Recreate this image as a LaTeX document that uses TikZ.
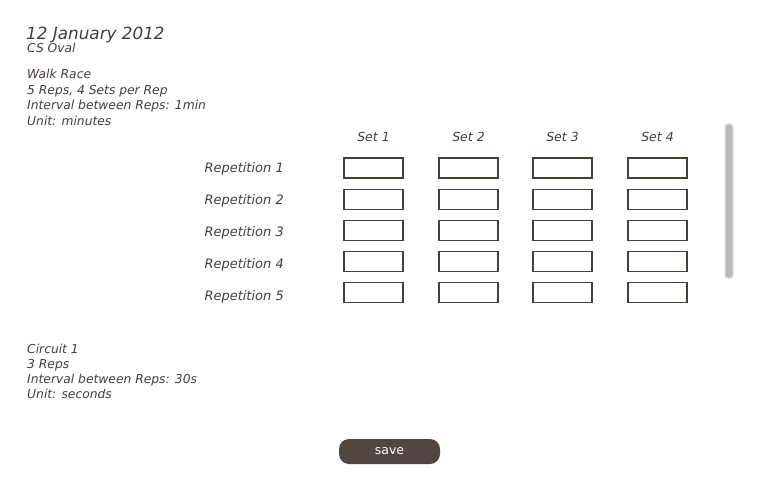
\documentclass[tikz,border=0pt]{standalone}
\usepackage{fontspec}
\setmainfont{DejaVu Sans}
\usepackage{tikz}
\usetikzlibrary{positioning}

\definecolor{inkbrown}{HTML}{443D3C}
\definecolor{boxbrown}{HTML}{4A3E38}
\definecolor{btnbrown}{HTML}{524641}
\definecolor{scrollgray}{HTML}{B8B8B8}

\tikzset{
  info/.style={anchor=base west, inner sep=0pt, color=inkbrown,
               font=\fontsize{12.3}{14}\selectfont\itshape},
  setlabel/.style={anchor=base, inner sep=0pt, color=inkbrown,
                   font=\fontsize{12.5}{14}\selectfont\itshape},
  replabel/.style={anchor=base east, inner sep=0pt, color=inkbrown,
                   font=\fontsize{13}{14}\selectfont\itshape},
  entrybox/.style={draw=boxbrown, line width=1.9pt, fill=white,
                   minimum width=59pt, minimum height=20pt, inner sep=0pt},
  savebtn/.style={fill=btnbrown, rounded corners=10pt, minimum width=101pt,
                  minimum height=25pt, inner sep=0pt, text=white,
                  font=\fontsize{12.5}{14}\selectfont}
}

\begin{document}
\begin{tikzpicture}[x=1pt, y=-1pt]
\useasboundingbox (0,0) rectangle (779,500);

\node[info, font=\fontsize{16.8}{18}\selectfont\itshape] (date) at (26, 40) {12 January 2012};
\node[info] (place) at (27, 53) {CS Oval};

\node[info] (walk1) at (27, 79) {Walk Race};
\node[info] (walk2) at (27, 94.5) {5 Reps, 4 Sets per Rep};
\node[info] (walk3) at (27, 110) {Interval between Reps: 1min};
\node[info] (walk4) at (27, 125.5) {Unit: minutes};

\node[setlabel] (set1) at (373.5, 141.5) {Set 1};
\node[setlabel] (set2) at (468.5, 141.5) {Set 2};
\node[setlabel] (set3) at (562.5, 141.5) {Set 3};
\node[setlabel] (set4) at (657.5, 141.5) {Set 4};

\node[replabel] (rep1) at (284, 172) {Repetition 1};
\node[replabel] (rep2) at (284, 204) {Repetition 2};
\node[replabel] (rep3) at (284, 236) {Repetition 3};
\node[replabel] (rep4) at (284, 268) {Repetition 4};
\node[replabel] (rep5) at (284, 300) {Repetition 5};

\node[entrybox] (r1s1) at (373.5, 168) {};
\node[entrybox] (r1s2) at (468.5, 168) {};
\node[entrybox] (r1s3) at (562.5, 168) {};
\node[entrybox] (r1s4) at (657.5, 168) {};
\node[entrybox] (r2s1) at (373.5, 199.5) {};
\node[entrybox] (r2s2) at (468.5, 199.5) {};
\node[entrybox] (r2s3) at (562.5, 199.5) {};
\node[entrybox] (r2s4) at (657.5, 199.5) {};
\node[entrybox] (r3s1) at (373.5, 230.5) {};
\node[entrybox] (r3s2) at (468.5, 230.5) {};
\node[entrybox] (r3s3) at (562.5, 230.5) {};
\node[entrybox] (r3s4) at (657.5, 230.5) {};
\node[entrybox] (r4s1) at (373.5, 261.5) {};
\node[entrybox] (r4s2) at (468.5, 261.5) {};
\node[entrybox] (r4s3) at (562.5, 261.5) {};
\node[entrybox] (r4s4) at (657.5, 261.5) {};
\node[entrybox] (r5s1) at (373.5, 292.5) {};
\node[entrybox] (r5s2) at (468.5, 292.5) {};
\node[entrybox] (r5s3) at (562.5, 292.5) {};
\node[entrybox] (r5s4) at (657.5, 292.5) {};

% scroll bar
\fill[gray!35, rounded corners=3.5pt] (724.5, 123.5) rectangle (733.5, 278.5);
\fill[scrollgray, rounded corners=2.5pt] (726, 125) rectangle (732, 277);
\fill[gray!55, rounded corners=2pt] (726.5, 126) rectangle (731.5, 131);

\node[info] (circ1) at (27, 353) {Circuit 1};
\node[info] (circ2) at (27, 368) {3 Reps};
\node[info] (circ3) at (27, 383.5) {Interval between Reps: 30s};
\node[info] (circ4) at (27, 398.5) {Unit: seconds};

\node[savebtn] (save) at (389.5, 451.5) {save};
\end{tikzpicture}
\end{document}
